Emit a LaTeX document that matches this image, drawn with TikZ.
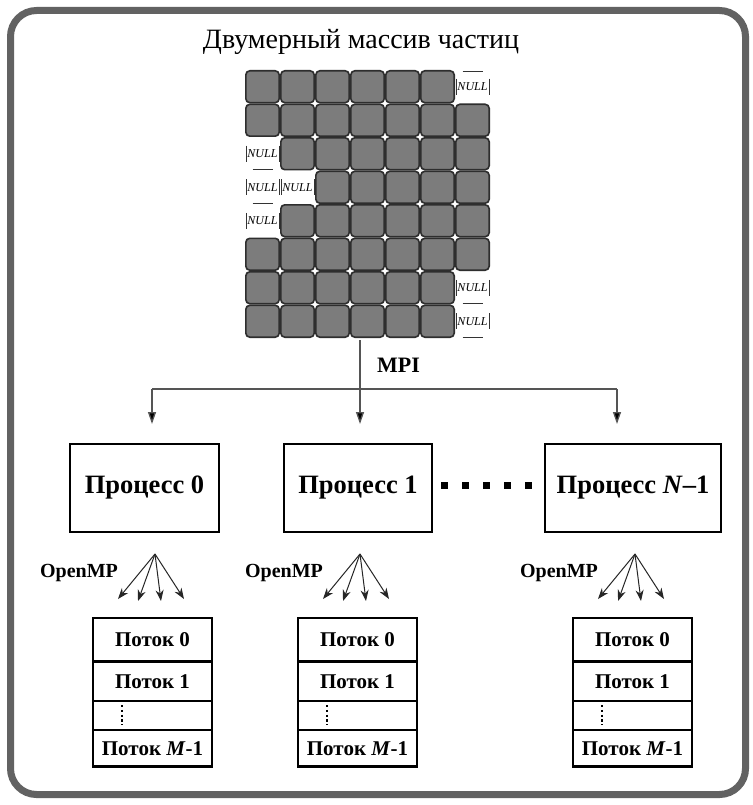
\documentclass[tikz,border=0pt]{standalone}
\usepackage{fontspec}
\setmainfont{Liberation Serif}
\usetikzlibrary{arrows.meta}
\definecolor{framegray}{HTML}{626262}
\definecolor{cellfill}{HTML}{7C7C7C}
\definecolor{cellline}{HTML}{2E2E2E}
\definecolor{busgray}{HTML}{555555}
\begin{document}
\begin{tikzpicture}[x=1pt,y=-1pt,
  frame/.style={draw=framegray,line width=7pt,rounded corners=26pt},
  cell/.style={draw=cellline,fill=cellfill,line width=1.6pt,rounded corners=4pt},
  nulltext/.style={inner sep=0pt,font=\fontsize{12}{12}\selectfont\itshape},
  nullbar/.style={draw=black!80,line width=0.8pt},
  title/.style={inner sep=0pt,font=\fontsize{28}{32}\selectfont},
  lbl/.style={inner sep=0pt,font=\fontsize{22}{24}\selectfont\bfseries},
  bus/.style={draw=busgray,line width=1.3pt},
  busarrow/.style={bus,-{Triangle[length=12pt,width=8pt,fill=black]}},
  proc/.style={draw=black,line width=2.6pt,minimum width=#1,minimum height=88pt,
    inner sep=0pt,outer sep=0pt,font=\fontsize{26.5}{30}\selectfont\bfseries},
  fanarrow/.style={draw=black!85,line width=1pt,-{Stealth[length=11pt,width=8pt]}},
  thread/.style={draw=black,line width=2.5pt,minimum width=119pt,minimum height=#1,
    inner sep=0pt,outer sep=0pt,font=\fontsize{21}{23}\selectfont\bfseries},
  openmp/.style={inner sep=0pt,font=\fontsize{20}{22}\selectfont\bfseries}]

\useasboundingbox (0,0) rectangle (752,805);
\fill[white] (0,0) rectangle (752,805);
\draw[frame] (10.5,10.5) rectangle (745.5,794.5);

% title of the particle array
\node[title] (title) at (361,42) {Двумерный массив частиц};

% particle grid: rows with the range of occupied columns
\foreach \r/\a/\b in {0/0/5,1/0/6,2/1/6,3/2/6,4/1/6,5/0/6,6/0/5,7/0/5}{
  \foreach \c in {\a,...,\b}{
    \draw[cell] ({245+35*\c+0.8},{70+33.5*\r+0.8}) rectangle
                ({245+35*(\c+1)-0.8},{70+33.5*(\r+1)-0.8});
  }
}

% empty (NULL) cells
\foreach \c/\r/\m in {6/0/1,0/2/2,0/3/2,1/3/0,0/4/0,6/6/2,6/7/2}{
  \pgfmathsetmacro{\xl}{245+35*\c}
  \pgfmathsetmacro{\xr}{245+35*(\c+1)}
  \pgfmathsetmacro{\xc}{245+35*(\c+0.5)}
  \pgfmathsetmacro{\yc}{70+33.5*(\r+0.5)}
  \node[nulltext] (null-\c-\r) at (\xc,\yc) {NULL};
  \draw[nullbar] (\xl+1,\yc-8) -- (\xl+1,\yc+8);
  \draw[nullbar] (\xr-1,\yc-8) -- (\xr-1,\yc+8);
  \ifnum\m=1 \draw[nullbar] (\xc-10,\yc-15) -- (\xc+10,\yc-15); \fi
  \ifnum\m=2 \draw[nullbar] (\xc-10,\yc+16) -- (\xc+10,\yc+16); \fi
}

% MPI distribution
\coordinate (mpisrc) at (360,340);
\coordinate (busL) at (152,389);
\coordinate (busR) at (617,389);
\coordinate (in0) at (152,424);
\coordinate (in1) at (360,424);
\coordinate (inN) at (617,424);
\node[lbl,anchor=west] (mpi) at (377,365) {MPI};
\draw[bus] (busL) -- (busR);
\draw[busarrow] (mpisrc) -- (in1);
\draw[busarrow] (busL) -- (in0);
\draw[busarrow] (busR) -- (inN);

% processes
\node[proc=149pt] (p0) at (144.5,488) {Процесс 0};
\node[proc=148pt] (p1) at (358,488) {Процесс 1};
\node[proc=176pt] (pN) at (633,488) {Процесс \textit{N}–1};
\foreach \i in {0,...,4}{
  \fill[black] ({444+21*\i-3.5},481.5) rectangle ++(7,7);
}

% OpenMP threads of each process
\foreach \g/\dx in {0/0,1/205,N/480}{
  \coordinate (fan\g) at (155+\dx,554);
  \coordinate (tipa\g) at (118+\dx,599);
  \coordinate (tipb\g) at (138+\dx,601);
  \coordinate (tipc\g) at (161+\dx,601);
  \coordinate (tipd\g) at (184+\dx,599);
  \node[openmp] (omp\g) at (79+\dx,573) {OpenMP};
  \foreach \t in {a,b,c,d}{\draw[fanarrow] (fan\g) -- (tip\t\g);}
  \node[thread=43.5pt] (th0\g) at (152.5+\dx,639.75) {Поток 0};
  \node[thread=39.5pt] (th1\g) at (152.5+\dx,681.25) {Поток 1};
  \node[thread=29pt] (thd\g) at (152.5+\dx,715.5) {};
  \node[thread=36.5pt] (thm\g) at (152.5+\dx,748.25) {Поток \textit{M}-1};
  \draw[black,line width=2.2pt,dash pattern=on 2.2pt off 2.6pt]
    ([xshift=29pt,yshift=-4pt]thd\g.north west) -- ([xshift=29pt,yshift=5pt]thd\g.south west);
}
\end{tikzpicture}
\end{document}
